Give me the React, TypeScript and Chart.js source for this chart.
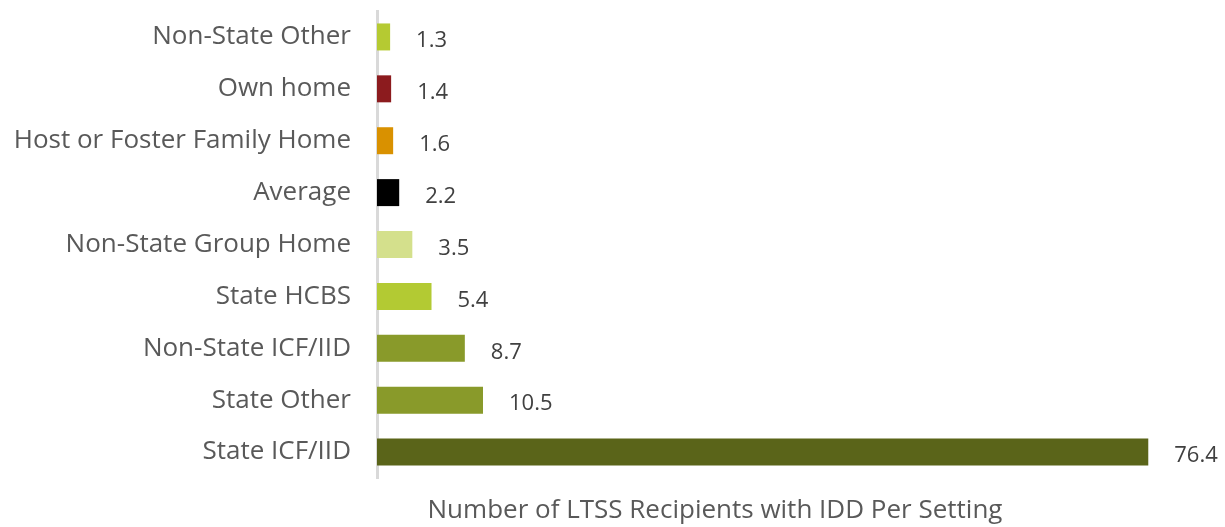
import React, { useEffect, useRef } from "react";
import { Chart, registerables } from "chart.js";

Chart.register(...registerables);

const categories = [
  "Non-State Other",
  "Own home",
  "Host or Foster Family Home",
  "Average",
  "Non-State Group Home",
  "State HCBS",
  "Non-State ICF/IID",
  "State Other",
  "State ICF/IID",
];
const values = [1.3, 1.4, 1.6, 2.2, 3.5, 5.4, 8.7, 10.5, 76.4];
const barColors = [
  "#B5CA32",
  "#8C1B1E",
  "#D99100",
  "#000000",
  "#D4E08C",
  "#B3CA33",
  "#899A2A",
  "#899A2A",
  "#5A6419",
];
const axisTitle = "Number of LTSS Recipients with IDD Per Setting";
const FONT = "'Open Sans', 'Noto Sans', sans-serif";

const valueLabelPlugin = {
  id: "valueLabels",
  afterDatasetsDraw(chart: any) {
    const ctx = chart.ctx;
    const meta = chart.getDatasetMeta(0);
    ctx.save();
    ctx.font = `22px ${FONT}`;
    ctx.fillStyle = "#404040";
    ctx.textAlign = "left";
    ctx.textBaseline = "middle";
    meta.data.forEach((bar: any, i: number) => {
      const v = chart.data.datasets[0].data[i];
      ctx.fillText(Number(v).toFixed(1), bar.x + 26, bar.y + 4);
    });
    ctx.restore();
  },
};

const axisTitlePlugin = {
  id: "axisTitleCustom",
  afterDraw(chart: any) {
    const ctx = chart.ctx;
    ctx.save();
    ctx.font = `26px ${FONT}`;
    ctx.fillStyle = "#595959";
    ctx.textAlign = "center";
    ctx.textBaseline = "middle";
    ctx.fillText(axisTitle, 715, 511);
    ctx.restore();
  },
};

export default function App() {
  const ref = useRef<HTMLCanvasElement>(null);
  useEffect(() => {
    if (!ref.current) return;
    const chart = new Chart(ref.current, {
      type: "bar",
      data: {
        labels: categories,
        datasets: [
          {
            data: values,
            backgroundColor: barColors,
            barPercentage: 0.52,
            categoryPercentage: 1,
          },
        ],
      },
      options: {
        indexAxis: "y",
        animation: false,
        responsive: false,
        maintainAspectRatio: false,
        layout: { padding: { top: 11, left: 0, right: 0, bottom: 0 } },
        plugins: {
          legend: { display: false },
          tooltip: { enabled: false },
        },
        scales: {
          x: {
            min: 0,
            max: 84,
            display: true,
            grid: { display: false, drawTicks: false },
            border: { display: false },
            ticks: { display: false },
            afterFit(scale: any) {
              scale.height = 49;
              scale.paddingLeft = 0;
              scale.paddingRight = 0;
            },
          },
          y: {
            grid: { display: false, drawTicks: false },
            border: { display: true, color: "#D9D9D9", width: 3 },
            ticks: {
              color: "#595959",
              font: { family: FONT, size: 26 },
              padding: 26,
              autoSkip: false,
            },
            afterFit(scale: any) {
              scale.width = 377;
              scale.paddingTop = 0;
              scale.paddingBottom = 0;
            },
          },
        },
      },
      plugins: [valueLabelPlugin, axisTitlePlugin],
    });
    return () => chart.destroy();
  }, []);
  return (
    <div style={{ position: "fixed", left: 0, top: 0, width: 1225, height: 527, background: "#fff" }}>
      <canvas ref={ref} width={1225} height={527} style={{ width: 1225, height: 527 }} />
    </div>
  );
}
